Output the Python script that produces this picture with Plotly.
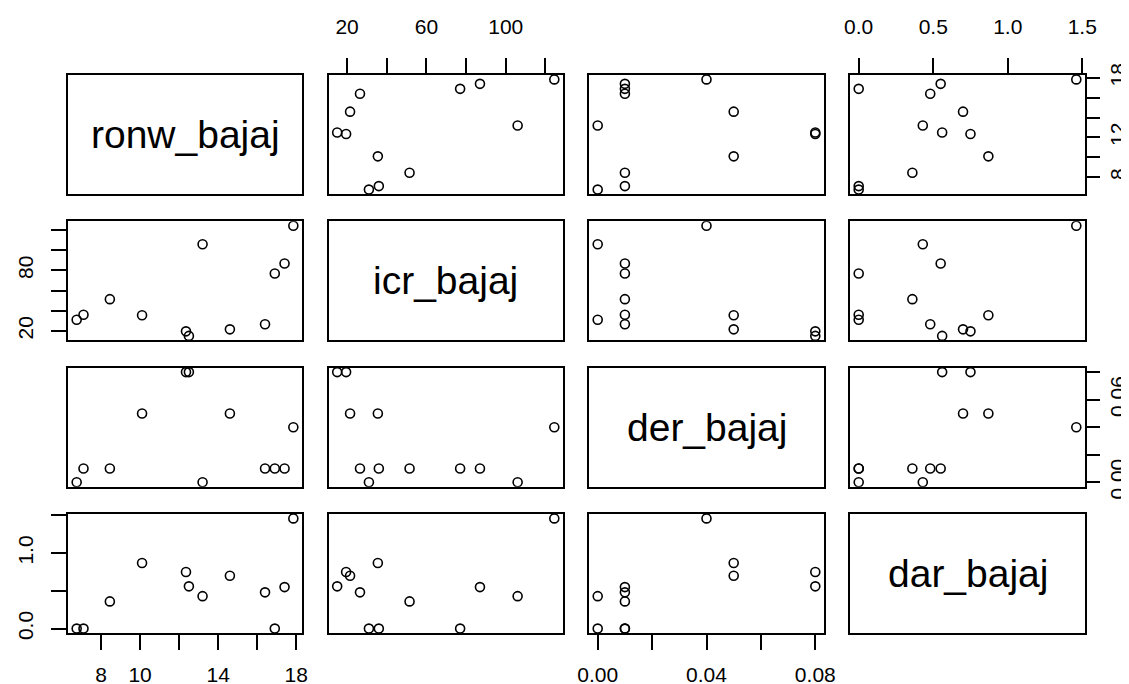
import plotly.graph_objects as go

# ---- data (12 observations) ----
var_names = ["ronw_bajaj", "icr_bajaj", "der_bajaj", "dar_bajaj"]
ronw_bajaj = [6.75, 7.1, 8.45, 10.1, 12.35, 12.5, 13.2, 14.6, 16.4, 16.9, 17.4, 17.85]
icr_bajaj = [31, 36, 51.5, 35.5, 19.5, 15, 106, 21.5, 26.5, 77, 87, 124.5]
der_bajaj = [0, 0.01, 0.01, 0.05, 0.08, 0.08, 0, 0.05, 0.01, 0.01, 0.01, 0.04]
dar_bajaj = [0, 0, 0.36, 0.87, 0.75, 0.56, 0.43, 0.70, 0.48, 0, 0.55, 1.46]

# ---- tick positions and labels ----
ronw_ticks = [8, 10, 12, 14, 16, 18]
ronw_labels_bottom = ["8", "10", "", "14", "", "18"]
ronw_labels_right = ["8", "", "12", "", "", "18"]
icr_ticks = [20, 40, 60, 80, 100, 120]
icr_labels_top = ["20", "", "60", "", "100", ""]
icr_labels_left = ["20", "", "", "80", "", ""]
der_ticks = [0, 0.02, 0.04, 0.06, 0.08]
der_labels_bottom = ["0.00", "", "0.04", "", "0.08"]
der_labels_right = ["0.00", "", "", "0.06", ""]
dar_ticks = [0, 0.5, 1.0, 1.5]
dar_labels_top = ["0.0", "0.5", "1.0", "1.5"]
dar_labels_left = ["0.0", "", "1.0", ""]

data = [ronw_bajaj, icr_bajaj, der_bajaj, dar_bajaj]
ticks = [ronw_ticks, icr_ticks, der_ticks, dar_ticks]
top_lab = [None, icr_labels_top, None, dar_labels_top]
bottom_lab = [ronw_labels_bottom, None, der_labels_bottom, None]
left_lab = [None, icr_labels_left, None, dar_labels_left]
right_lab = [ronw_labels_right, None, der_labels_right, None]

W, H = 1129, 684
col_px = [(60, 294), (320.5, 555), (581, 816), (842, 1077)]
row_px = [(67, 186), (213.3, 332.3), (359.7, 478.7), (506, 625)]

def rrange(v):
    lo, hi = min(v), max(v)
    d = hi - lo
    return [lo - 0.04 * d, hi + 0.04 * d]

FONT = "Liberation Sans, Arial, sans-serif"
fig = go.Figure()
n = 4
annotations = []
for i in range(n):
    for j in range(n):
        k = i * n + j + 1
        xa = "xaxis" if k == 1 else f"xaxis{k}"
        ya = "yaxis" if k == 1 else f"yaxis{k}"
        xr = "x" if k == 1 else f"x{k}"
        yr = "y" if k == 1 else f"y{k}"
        x0, x1 = col_px[j]
        t0, t1 = row_px[i]
        base = dict(showline=True, mirror=True, linecolor="black", linewidth=2,
                    showgrid=False, zeroline=False, showticklabels=False, ticks="",
                    automargin=False,
                    tickfont=dict(family=FONT, size=21, color="black"))
        xax = dict(base, domain=[x0 / W, x1 / W], anchor=yr)
        yax = dict(base, domain=[1 - t1 / H, 1 - t0 / H], anchor=xr)
        if i == j:
            xax["range"] = [0, 1]
            yax["range"] = [0, 1]
            annotations.append(dict(x=0.5, y=0.5, xref=xr, yref=yr, text=var_names[i],
                                    showarrow=False,
                                    font=dict(family=FONT, size=39, color="black")))
            fig.add_trace(go.Scatter(x=[], y=[], xaxis=xr, yaxis=yr, showlegend=False))
        else:
            xax["range"] = rrange(data[j])
            yax["range"] = rrange(data[i])
            fig.add_trace(go.Scatter(
                x=data[j], y=data[i], mode="markers", xaxis=xr, yaxis=yr,
                showlegend=False, hoverinfo="skip",
                marker=dict(symbol="circle-open", size=9, color="black",
                            line=dict(width=1.6, color="black"))))
        tick_common = dict(ticks="outside", ticklen=15, tickwidth=2, tickcolor="black",
                           showticklabels=True)
        if i == 0 and top_lab[j] is not None:
            xax.update(tick_common, side="top", tickvals=ticks[j], ticktext=top_lab[j],
                       ticklabelstandoff=16, range=rrange(data[j]))
        if i == n - 1 and bottom_lab[j] is not None:
            xax.update(tick_common, side="bottom", tickvals=ticks[j], ticktext=bottom_lab[j],
                       ticklabelstandoff=7, range=rrange(data[j]))
        if j == 0 and left_lab[i] is not None:
            yax.update(tick_common, side="left", tickvals=ticks[i], ticktext=left_lab[i],
                       tickangle=-90, ticklabelstandoff=10, range=rrange(data[i]))
        if j == n - 1 and right_lab[i] is not None:
            yax.update(tick_common, side="right", tickvals=ticks[i], ticktext=right_lab[i],
                       tickangle=-90, ticklabelstandoff=0, range=rrange(data[i]))
            yax["ticklen"] = 13
        fig.layout[xa] = xax
        fig.layout[ya] = yax

fig.update_layout(width=W, height=H, margin=dict(l=0, r=0, t=0, b=0, autoexpand=False),
                  paper_bgcolor="white", plot_bgcolor="white",
                  annotations=annotations, showlegend=False)
fig.write_html("out.html")
